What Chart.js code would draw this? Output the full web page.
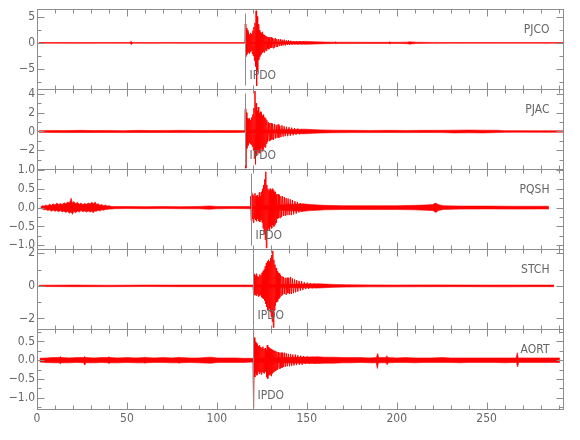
<!DOCTYPE html>
<html>
<head>
<meta charset="utf-8">
<script src="https://cdn.jsdelivr.net/npm/chart.js@4.4.1/dist/chart.umd.min.js"></script>
<style>
  html, body { margin: 0; padding: 0; background: #fff; }
  #wrap { width: 580px; height: 440px; }
</style>
</head>
<body>
<div id="wrap"><canvas id="seisChart" width="580" height="440"></canvas></div>
<script>
// 관측소 이름, 피킹 시각
const stations = ['PJCO', 'PJAC', 'PQSH', 'STCH', 'AORT'];
const pickLabel = 'IPDO';
const pickTimes = [115.8, 115.8, 118.8, 120.3, 120.3];

// y축 범위와 눈금
const yMins = [-8.8, -4.0, -1.1, -2.65, -1.3];
const yMaxs = [6.4, 4.5, 1.02, 2.26, 0.83];
const yTicks = [
	[5, 0, -5],
	[4, 2, 0, -2],
	[1, 0.5, 0, -0.5, -1],
	[2, 0, -2],
	[0.5, 0, -0.5, -1]
];
const yDecimals = [0, 0, 1, 0, 1];
const yMinorSteps = [2.5, 1, 0.25, 1, 0.25];

// x축 (초)
const xMax = 293;
const xTicks = [0, 50, 100, 150, 200, 250];

// 잡음 구간 포락선 [시간, 진폭] (위/아래)
const pjcoTop = [[1,0.06],[10,0.07],[20,0.08],[30,0.06],[40,0.07],[51.6,0.07],[52.3,0.3],[53,0.07],[65,0.06],[75,0.08],[85,0.07],[95,0.08],[105,0.07],[115.5,0.06],
	[150,0.28],[155,0.2],[160,0.15],[165.4,0.12],[166,0.2],[166.6,0.12],[175,0.12],[185,0.1],[195.4,0.1],[196,0.2],[196.6,0.11],[201,0.1],[206,0.14],[207,0.22],[208.5,0.18],[211,0.12],[220,0.09],[230,0.07],[245,0.06],[260,0.05],[275,0.05],[293,0.05]];
const pjcoBot = [[1,-0.06],[10,-0.06],[20,-0.08],[30,-0.07],[40,-0.06],[51.6,-0.07],[52.6,-0.32],[53.3,-0.07],[65,-0.07],[75,-0.06],[85,-0.08],[95,-0.07],[105,-0.08],[115.5,-0.06],
	[150,-0.26],[155,-0.2],[160,-0.16],[165.6,-0.12],[166.2,-0.18],[166.8,-0.12],[175,-0.11],[185,-0.11],[195.6,-0.1],[196.3,-0.2],[196.9,-0.1],[201,-0.1],[206,-0.15],[207.3,-0.24],[208.8,-0.16],[211,-0.12],[220,-0.09],[230,-0.07],[245,-0.06],[260,-0.05],[275,-0.05],[293,-0.05]];
const pjacTop = [[1,0.09],[8,0.11],[16,0.1],[24,0.12],[32,0.1],[40,0.11],[48,0.09],[56,0.12],[64,0.1],[72,0.11],[80,0.12],[88,0.1],[96,0.11],[104,0.1],[112,0.1],[115.5,0.09],
	[149,0.25],[153,0.2],[158,0.17],[165,0.14],[175,0.12],[185,0.11],[195,0.12],[205,0.11],[215,0.12],[225,0.12],[232,0.14],[240,0.15],[248,0.14],[256,0.13],[260,0.09],[270,0.09],[280,0.08],[293,0.08]];
const pjacBot = [[1,-0.09],[8,-0.1],[16,-0.12],[24,-0.1],[32,-0.11],[40,-0.1],[48,-0.12],[56,-0.1],[64,-0.11],[72,-0.1],[80,-0.12],[88,-0.11],[96,-0.1],[104,-0.11],[112,-0.1],[115.5,-0.09],
	[149,-0.24],[153,-0.2],[158,-0.16],[165,-0.13],[175,-0.12],[185,-0.12],[195,-0.11],[205,-0.12],[215,-0.11],[225,-0.12],[232,-0.15],[240,-0.14],[248,-0.15],[256,-0.12],[260,-0.09],[270,-0.08],[280,-0.09],[293,-0.08]];
const pqshTop = [[2,0.02],[3,0.05],[4,0.04],[5,0.07],[6,0.05],[7,0.09],[8,0.06],[9,0.1],[10,0.07],[11,0.12],[12,0.08],[13,0.11],[14,0.08],[15,0.13],[16,0.1],[17,0.15],[18,0.12],[19,0.25],[19.6,0.12],[20.5,0.16],[21.5,0.1],[22.5,0.14],[23.5,0.09],[24.5,0.12],[25.5,0.08],
	[26.5,0.11],[27.5,0.09],[28.5,0.12],[29.5,0.1],[30.5,0.14],[31.5,0.1],[32.3,0.15],[33,0.09],[34,0.1],[35,0.06],[36,0.08],[37,0.05],[38,0.07],[39,0.04],[40,0.05],[41.5,0.03],[43,0.03],
	[50,0.03],[60,0.025],[70,0.03],[80,0.025],[90,0.03],[96,0.045],[100,0.03],[110,0.03],[118.5,0.03],
	[148,0.1],[152,0.08],[156,0.07],[160,0.06],[170,0.05],[180,0.05],[190,0.05],[200,0.05],[210,0.06],[216,0.07],[220,0.08],[221.5,0.12],[223,0.08],[226,0.05],[235,0.04],[250,0.04],[265,0.035],[284.6,0.035]];
const pqshBot = [[2,-0.02],[3,-0.04],[4,-0.06],[5,-0.05],[6,-0.08],[7,-0.06],[8,-0.1],[9,-0.07],[10,-0.1],[11,-0.08],[12,-0.11],[13,-0.08],[14,-0.12],[15,-0.09],[16,-0.13],[17,-0.1],[18,-0.15],[19,-0.11],[19.7,-0.18],[20.5,-0.1],[21.5,-0.14],[22.5,-0.09],[23.5,-0.12],[24.5,-0.08],
	[25.5,-0.11],[26.5,-0.09],[27.5,-0.12],[28.5,-0.09],[29.5,-0.12],[30.5,-0.1],[31.3,-0.14],[32,-0.09],[33,-0.1],[34,-0.07],[35,-0.09],[36,-0.06],[37,-0.07],[38,-0.05],[39,-0.05],[40,-0.04],[41.5,-0.04],[43,-0.03],
	[50,-0.025],[60,-0.03],[70,-0.025],[80,-0.03],[90,-0.03],[96,-0.045],[100,-0.03],[110,-0.025],[118.5,-0.03],
	[148,-0.1],[152,-0.08],[156,-0.07],[160,-0.06],[170,-0.05],[180,-0.05],[190,-0.05],[200,-0.05],[210,-0.06],[216,-0.07],[220,-0.08],[221.8,-0.13],[223,-0.08],[226,-0.05],[235,-0.04],[250,-0.035],[265,-0.04],[284.6,-0.035]];
const stchTop = [[1,0.04],[20,0.05],[40,0.04],[60,0.05],[80,0.05],[100,0.05],[120,0.05],
	[156.5,0.13],[160,0.11],[165,0.09],[172,0.07],[185,0.06],[200,0.05],[220,0.06],[240,0.05],[260,0.05],[275,0.05],[287.5,0.05]];
const stchBot = [[1,-0.04],[20,-0.05],[40,-0.05],[60,-0.04],[80,-0.05],[100,-0.05],[120,-0.05],
	[156.5,-0.13],[160,-0.11],[165,-0.09],[172,-0.07],[185,-0.06],[200,-0.06],[220,-0.05],[240,-0.05],[260,-0.06],[275,-0.05],[287.5,-0.05]];
const aortTop = [[1.5,0.05],[5,0.06],[9,0.07],[12.4,0.07],[13,0.1],[13.6,0.07],[18,0.06],[22,0.07],[25.9,0.07],[26.5,0.1],[27.1,0.07],[32,0.06],[36,0.07],[39.4,0.07],[40,0.09],[40.6,0.07],
	[45,0.06],[50,0.07],[55,0.06],[59.4,0.07],[60,0.08],[60.6,0.07],[65,0.06],[70,0.07],[75,0.06],[78.4,0.07],[79,0.08],[79.6,0.07],[85,0.06],[90,0.06],[96,0.08],[97,0.08],[100,0.06],[105,0.06],[110,0.06],[115,0.05],[120,0.05],
	[156,0.09],[160,0.08],[165,0.08],[170,0.07],[175,0.07],[180,0.07],[185,0.06],[188.7,0.07],[189.4,0.18],[190,0.07],[194,0.07],[194.5,0.12],[195,0.07],[200,0.06],[205,0.07],[210,0.06],[215,0.06],[220,0.06],[225,0.07],
	[230,0.06],[235,0.06],[240,0.06],[245,0.06],[250,0.06],[255,0.06],[260,0.06],[266.4,0.06],[267,0.2],[267.6,0.06],[272,0.06],[278,0.06],[284,0.06],[290.7,0.06]];
const aortBot = [[1.5,-0.05],[5,-0.06],[9,-0.07],[12.4,-0.07],[13,-0.1],[13.6,-0.07],[18,-0.07],[22,-0.06],[25.9,-0.07],[26.6,-0.13],[27.2,-0.07],[32,-0.07],[36,-0.06],[39.4,-0.07],[40.1,-0.09],[40.7,-0.07],
	[45,-0.07],[50,-0.06],[55,-0.07],[59.4,-0.07],[60.1,-0.08],[60.7,-0.07],[65,-0.06],[70,-0.06],[75,-0.07],[78.4,-0.07],[79.1,-0.08],[79.7,-0.07],[85,-0.06],[90,-0.07],[96,-0.08],[97,-0.08],[100,-0.06],[105,-0.06],[110,-0.06],[115,-0.06],[120,-0.05],
	[156,-0.09],[160,-0.08],[165,-0.08],[170,-0.07],[175,-0.07],[180,-0.06],[185,-0.07],[188.6,-0.07],[189.2,-0.22],[189.8,-0.07],[194,-0.07],[194.7,-0.12],[195.3,-0.07],[200,-0.06],[205,-0.06],[210,-0.07],[215,-0.06],[220,-0.06],[225,-0.06],
	[230,-0.06],[235,-0.07],[240,-0.06],[245,-0.06],[250,-0.06],[255,-0.06],[260,-0.07],[266.6,-0.06],[267.2,-0.18],[267.8,-0.06],[272,-0.06],[278,-0.06],[284,-0.06],[290.7,-0.06]];

// 지진파 도착 이후 파형 [시간, 진폭]
const pjcoWave = [
	[115.6,0],
	[115.8,3.6],[116.1,-2.6],[116.4,2.8],[116.7,-2.2],[117.0,2.4],[117.3,-1.8],[117.6,2.0],[117.9,-2.0],
	[118.2,1.6],[118.5,-1.7],[118.8,1.9],[119.1,-1.5],[119.4,1.7],[119.7,-2.1],[120.0,2.3],[120.3,-2.5],
	[120.6,3.0],[120.9,-3.4],[121.2,3.8],[121.5,-4.5],[121.8,6.1],[122.1,-8.2],[122.4,5.0],[122.7,-5.5],
	[123.0,3.5],[123.3,-3.2],[123.6,2.4],[123.9,-2.6],[124.2,2.0],[124.5,-2.2],[124.8,1.8],[125.1,-1.9],
	[125.4,2.1],[125.7,-1.7],[126.0,1.6],[126.3,-1.8],[126.6,1.5],[126.9,-1.4],[127.2,1.3],[127.5,-1.5],
	[127.8,1.2],[128.1,-1.1],[128.5,1.1],[128.9,-1.2],[129.3,1.0],[129.7,-1.0],[130.1,1.1],[130.5,-0.9],
	[130.9,0.9],[131.3,-1.0],[131.7,0.8],[132.1,-0.9],[132.5,0.9],[132.9,-0.7],[133.3,0.7],[133.8,-0.8],
	[134.3,0.7],[134.8,-0.6],[135.3,0.7],[135.8,-0.6],[136.3,0.6],[136.8,-0.5],[137.4,0.6],[138.0,-0.5],
	[138.6,0.5],[139.2,-0.4],[139.8,0.5],[140.4,-0.4],[141.1,0.4],[141.8,-0.35],[142.6,0.35],[143.4,-0.3],
	[144.2,0.3],[145.0,-0.3],[146.0,0.25],[147.0,-0.25],[148.0,0.25],[149.0,-0.2],[150.5,0]
];
const pjacWave = [
	[115.6,0],
	[115.8,2.4],[116.1,-3.9],[116.4,2.0],[116.7,-1.8],[117.0,1.4],[117.3,-1.5],[117.6,1.3],[117.9,-1.2],
	[118.2,1.4],[118.5,-1.3],[118.8,1.2],[119.1,-1.4],[119.4,1.5],[119.7,-1.6],[120.0,1.8],[120.3,-2.0],
	[120.6,2.5],[120.9,-2.8],[121.2,4.3],[121.5,-3.5],[121.8,3.0],[122.1,-2.6],[122.4,2.2],[122.7,-2.2],
	[123.0,2.6],[123.3,-2.0],[123.6,1.9],[123.9,-2.3],[124.2,2.1],[124.5,-1.8],[124.8,2.0],[125.1,-2.1],
	[125.4,1.7],[125.7,-1.9],[126.0,1.8],[126.3,-1.6],[126.6,1.5],[126.9,-1.7],[127.2,1.4],[127.5,-1.3],
	[127.8,1.2],[128.2,-1.1],[128.6,1.0],[129.0,-1.0],[129.4,0.9],[129.8,-0.95],[130.2,0.9],[130.6,-0.85],
	[131.0,0.8],[131.5,-0.9],[132.0,0.8],[132.5,-0.75],[133.0,0.7],[133.5,-0.7],[134.0,0.75],[134.5,-0.65],
	[135.0,0.6],[135.6,-0.6],[136.2,0.65],[136.8,-0.55],[137.4,0.55],[138.0,-0.5],[138.7,0.5],[139.4,-0.5],
	[140.1,0.45],[140.8,-0.45],[141.6,0.4],[142.4,-0.4],[143.2,0.35],[144.0,-0.35],[145.0,0.3],[146.0,-0.3],
	[147.0,0.25],[148.0,-0.25],[149.5,0]
];
const pqshWave = [
	[118.6,0],
	[118.8,0.3],[119.1,-0.35],[119.4,0.4],[119.7,-0.3],[120.0,0.35],[120.3,-0.4],[120.6,0.32],[120.9,-0.28],
	[121.2,0.38],[121.5,-0.33],[121.8,0.3],[122.1,-0.36],[122.4,0.33],[122.7,-0.3],[123.0,0.28],[123.3,-0.35],
	[123.6,0.4],[123.9,-0.38],[124.2,0.3],[124.5,-0.33],[124.8,0.42],[125.1,-0.4],[125.4,0.5],[125.7,-0.55],
	[126.0,0.6],[126.3,-0.7],[126.6,0.75],[126.9,-0.85],[127.2,0.95],[127.5,-1.07],[127.8,0.6],[128.1,-0.6],
	[128.4,0.5],[128.7,-0.55],[129.0,0.45],[129.3,-0.6],[129.6,0.5],[129.9,-0.5],[130.2,0.45],[130.5,-0.55],
	[130.8,0.5],[131.1,-0.45],[131.4,0.45],[131.7,-0.5],[132.0,0.4],[132.3,-0.45],[132.6,0.42],[132.9,-0.4],
	[133.2,0.35],[133.6,-0.3],[134.0,0.36],[134.4,-0.28],[134.8,0.33],[135.2,-0.27],[135.6,0.3],[136.0,-0.25],
	[136.5,0.3],[137.0,-0.22],[137.5,0.28],[138.0,-0.22],[138.5,0.25],[139.0,-0.2],[139.6,0.24],[140.2,-0.2],
	[140.8,0.22],[141.4,-0.2],[142.0,0.2],[142.7,-0.18],[143.4,0.17],[144.1,-0.16],[144.8,0.15],[145.6,-0.13],
	[146.4,0.12],[147.2,-0.11],[148.0,0]
];
const stchWave = [
	[120.1,0],
	[120.3,0.8],[120.6,-0.6],[120.9,0.7],[121.2,-0.55],[121.5,0.6],[121.8,-0.6],[122.1,0.75],[122.4,-0.5],
	[122.7,0.6],[123.0,-0.65],[123.3,0.55],[123.6,-0.6],[123.9,0.7],[124.2,-0.55],[124.5,0.65],[124.8,-0.7],
	[125.1,0.8],[125.4,-0.75],[125.7,0.9],[126.0,-0.8],[126.3,1.0],[126.6,-0.9],[126.9,1.2],[127.2,-1.1],
	[127.5,1.4],[127.8,-1.3],[128.1,1.5],[128.4,-1.5],[128.7,1.6],[129.0,-1.4],[129.3,1.5],[129.6,-1.6],
	[129.9,1.7],[130.2,-1.9],[130.5,1.9],[130.8,-2.2],[131.1,2.15],[131.4,-2.56],[131.7,1.6],[132.0,-1.5],
	[132.3,1.3],[132.6,-1.2],[132.9,1.1],[133.2,-1.0],[133.5,0.9],[133.8,-0.95],[134.1,0.8],[134.4,-0.8],
	[134.7,0.75],[135.0,-0.7],[135.4,0.65],[135.8,-0.6],[136.2,0.6],[136.6,-0.55],[137.0,0.55],[137.5,-0.5],
	[138.0,0.5],[138.5,-0.55],[139.0,0.5],[139.5,-0.45],[140.0,0.5],[140.5,-0.5],[141.0,0.55],[141.5,-0.5],
	[142.0,0.45],[142.6,-0.45],[143.2,0.4],[143.8,-0.4],[144.4,0.35],[145.0,-0.35],[145.7,0.3],[146.4,-0.3],
	[147.1,0.3],[147.8,-0.25],[148.6,0.22],[149.4,-0.2],[150.2,0.2],[151,-0.18],[152,0.16],[153,-0.15],
	[154,0.14],[155,-0.13],[156.5,0]
];
const aortWave = [
	[120.1,0],
	[120.3,0.8],[120.5,-1.27],[120.8,0.6],[121.1,-0.45],[121.4,0.49],[121.7,-0.35],[122.0,0.45],[122.3,-0.4],
	[122.6,0.42],[122.9,-0.3],[123.2,0.38],[123.5,-0.36],[123.8,0.4],[124.1,-0.32],[124.4,0.35],[124.7,-0.38],
	[125.0,0.33],[125.3,-0.3],[125.6,0.36],[125.9,-0.34],[126.2,0.3],[126.5,-0.35],[126.8,0.32],[127.1,-0.3],
	[127.4,0.28],[127.7,-0.45],[128.0,0.4],[128.3,-0.49],[128.6,0.35],[128.9,-0.4],[129.2,0.32],[129.5,-0.38],
	[129.8,0.3],[130.1,-0.42],[130.4,0.3],[130.7,-0.35],[131.0,0.28],[131.3,-0.32],[131.6,0.26],[131.9,-0.3],
	[132.2,0.25],[132.5,-0.28],[132.8,0.24],[133.1,-0.26],[133.4,0.22],[133.8,-0.25],[134.2,0.22],[134.6,-0.22],
	[135.0,0.2],[135.4,-0.22],[135.8,0.2],[136.2,-0.2],[136.7,0.2],[137.2,-0.18],[137.7,0.2],[138.2,-0.17],
	[138.7,0.18],[139.2,-0.16],[139.8,0.17],[140.4,-0.16],[141.0,0.16],[141.6,-0.15],[142.2,0.15],[142.9,-0.14],
	[143.6,0.15],[144.3,-0.13],[145.0,0.13],[145.8,-0.12],[146.6,0.12],[147.4,-0.12],[148.2,0.11],[149.2,-0.1],
	[150.2,0.1],[151.5,-0.1],[153,0.09],[154.5,-0.09],[156,0]
];

const bandTops = [pjcoTop, pjacTop, pqshTop, stchTop, aortTop];
const bandBots = [pjcoBot, pjacBot, pqshBot, stchBot, aortBot];
const waves = [pjcoWave, pjacWave, pqshWave, stchWave, aortWave];

const fontFamily = "'Liberation Sans Narrow', 'DejaVu Sans Condensed', 'Liberation Sans', sans-serif";
const frameColor = '#8c8c8c';
const textColor = '#666666';
const traceColor = 'rgb(255, 0, 0)';

function fmtTick(v, d) {
	const s = Math.abs(v).toFixed(d);
	return v < 0 ? '\u2212' + s : s;
}

// 패널 테두리, 안쪽 눈금, 관측소 이름, 피킹 표시
const panelFrames = {
	id: 'panelFrames',
	afterDatasetsDraw(chart) {
		const ctx = chart.ctx;
		const xs = chart.scales.x;
		const left = Math.round(chart.chartArea.left) + 0.5;
		const right = Math.round(chart.chartArea.right) - 0.5;
		const seg = (x1, y1, x2, y2) => {
			ctx.beginPath();
			ctx.moveTo(x1, y1);
			ctx.lineTo(x2, y2);
			ctx.stroke();
		};
		ctx.save();
		ctx.strokeStyle = frameColor;
		ctx.lineWidth = 1;
		ctx.fillStyle = textColor;
		ctx.font = '12px ' + fontFamily;
		stations.forEach((name, i) => {
			const ys = chart.scales['y' + i];
			const top = Math.round(ys.top) + 0.5;
			const bottom = Math.round(ys.bottom) + 0.5;
			ctx.strokeRect(left, top, right - left, bottom - top);
			// x 눈금 (위/아래)
			for (let k = 0; k * 10 <= xMax; k++) {
				const px = Math.round(xs.getPixelForValue(k * 10)) + 0.5;
				const len = k % 5 === 0 ? 7 : 4;
				seg(px, top, px, top + len);
				seg(px, bottom, px, bottom - len);
			}
			// y 눈금 (왼쪽/오른쪽)
			const step = yMinorSteps[i];
			const k0 = Math.ceil(yMins[i] / step - 1e-9);
			const k1 = Math.floor(yMaxs[i] / step + 1e-9);
			for (let k = k0; k <= k1; k++) {
				const v = k * step;
				const py = Math.round(ys.getPixelForValue(v)) + 0.5;
				const major = yTicks[i].some(m => Math.abs(m - v) < 1e-6);
				const len = major ? 7 : 4;
				seg(left, py, left + len, py);
				seg(right, py, right - len, py);
			}
			// 피킹 선
			const pk = Math.round(xs.getPixelForValue(pickTimes[i])) + 0.5;
			seg(pk, top + 4, pk, bottom - 4);
			ctx.textBaseline = 'middle';
			ctx.textAlign = 'left';
			ctx.fillText(pickLabel, pk + 4, bottom - 14);
			ctx.textAlign = 'right';
			ctx.fillText(name, right - 14, top + 20);
		});
		ctx.restore();
	}
};

const scales = {
	x: {
		type: 'linear',
		position: 'bottom',
		min: 0,
		max: xMax,
		grid: { display: false, drawTicks: false },
		border: { display: false },
		afterBuildTicks: s => { s.ticks = xTicks.map(v => ({ value: v })); },
		afterFit: s => { s.height = 31; },
		ticks: {
			padding: 3,
			color: textColor,
			font: { family: fontFamily, size: 12 },
			maxRotation: 0,
			autoSkip: false
		}
	}
};
stations.forEach((name, i) => {
	scales['y' + i] = {
		type: 'linear',
		position: 'left',
		stack: 'seis',
		stackWeight: 1,
		weight: stations.length - i,
		min: yMins[i],
		max: yMaxs[i],
		grid: { display: false, drawTicks: false },
		border: { display: false },
		afterBuildTicks: s => { s.ticks = yTicks[i].map(v => ({ value: v })); },
		afterFit: s => { s.width = 37; },
		ticks: {
			padding: 2,
			color: textColor,
			font: { family: fontFamily, size: 12 },
			autoSkip: false,
			callback: v => fmtTick(v, yDecimals[i])
		}
	};
});

// 데이터셋: 잡음 포락선(위, 아래) + 파형
const datasets = [];
stations.forEach((name, i) => {
	datasets.push({
		label: name + ' noise+',
		data: bandTops[i],
		yAxisID: 'y' + i,
		borderColor: traceColor,
		borderWidth: 0.6,
		pointRadius: 0,
		tension: 0,
		fill: 3 * i + 1,
		backgroundColor: traceColor
	});
	datasets.push({
		label: name + ' noise-',
		data: bandBots[i],
		yAxisID: 'y' + i,
		borderColor: traceColor,
		borderWidth: 0.6,
		pointRadius: 0,
		tension: 0,
		fill: false
	});
	datasets.push({
		label: name,
		data: waves[i],
		yAxisID: 'y' + i,
		borderColor: traceColor,
		borderWidth: 1,
		pointRadius: 0,
		tension: 0,
		fill: false
	});
});

const ctx = document.getElementById('seisChart').getContext('2d');
const seisChart = new Chart(ctx, {
	type: 'line',
	data: { datasets: datasets },
	options: {
		responsive: false,
		animation: false,
		events: [],
		layout: { padding: { left: 0, right: 16, top: 5, bottom: 0 } },
		scales: scales,
		plugins: {
			legend: { display: false },
			tooltip: { enabled: false }
		}
	},
	plugins: [panelFrames]
});
</script>
</body>
</html>
